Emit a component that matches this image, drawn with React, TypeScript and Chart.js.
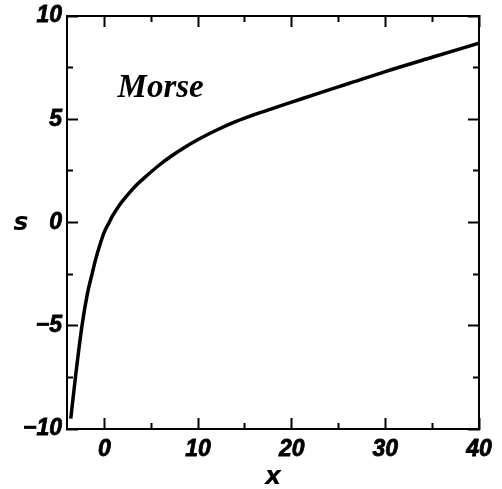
import React, { useEffect, useRef } from "react";
import { Chart, registerables } from "chart.js";

Chart.register(...registerables);

// Curve data
const xValues = [-3.6, -3.1, -2.4, -1.8, -1.3, -0.95, -0.5, -0.05, 0.5, 0.8, 1.5, 2.5, 3.5, 4.6, 5.8, 7, 8.5, 10, 12, 14, 16, 18, 20, 23, 26, 30, 35, 40];
const sValues = [-9.5, -7.5, -5.0, -3.4, -2.45, -1.8, -1.1, -0.5, 0.0, 0.27, 0.78, 1.35, 1.85, 2.3, 2.76, 3.17, 3.62, 4.02, 4.48, 4.88, 5.22, 5.53, 5.83, 6.28, 6.72, 7.31, 8.0, 8.68];

const xMajorTicks = [0, 10, 20, 30, 40];
const xMinorTicks = [5, 15, 25, 35];
const yMajorTicks = [-10, -5, 0, 5, 10];
const yMinorTicks = [-7.5, -2.5, 2.5, 7.5];

const X_MIN = -4;
const X_MAX = 40;
const Y_MIN = -10;
const Y_MAX = 10;

const annotationText = "Morse";
const annotationPos = [6, 6.1];
const xTitle = "x";
const yTitle = "s";

const fmt = (v: number) => (v < 0 ? "\u2212" + Math.abs(v) : String(v));

export default function App() {
  const canvasRef = useRef<HTMLCanvasElement | null>(null);

  useEffect(() => {
    const canvas = canvasRef.current;
    if (!canvas) return;

    const tickFont = { family: "'Liberation Sans', Arial, sans-serif", size: 23, weight: "bold" as const, style: "italic" as const };

    const setTicks = (vals: number[]) => (scale: any) => {
      scale.ticks = vals.map((v) => ({ value: v }));
    };

    const clearPad = (s: any) => {
      s.paddingLeft = 0;
      s.paddingRight = 0;
      s.paddingTop = 0;
      s.paddingBottom = 0;
    };

    const tickOnly = (axisPos: string, isX: boolean, vals: number[], len: number, size: number) => ({
      type: "linear" as const,
      position: axisPos,
      min: isX ? X_MIN : Y_MIN,
      max: isX ? X_MAX : Y_MAX,
      afterBuildTicks: setTicks(vals),
      ticks: { display: false },
      grid: { drawOnChartArea: false, drawTicks: true, tickLength: len, tickWidth: 2, tickColor: "#000", color: "#000" },
      border: { display: true, color: "#000", width: 2 },
      afterFit: (s: any) => {
        if (isX) s.height = size;
        else s.width = size;
        clearPad(s);
      },
    });

    const textPlugin = {
      id: "textLabels",
      afterDraw(chart: any) {
        const ctx = chart.ctx;
        const xs = chart.scales.x;
        const ys = chart.scales.y;
        ctx.save();
        ctx.fillStyle = "#000";
        ctx.font = "italic bold 33px 'Liberation Serif', 'Times New Roman', serif";
        ctx.textAlign = "center";
        ctx.textBaseline = "alphabetic";
        ctx.fillText(annotationText, xs.getPixelForValue(annotationPos[0]), ys.getPixelForValue(annotationPos[1]));
        ctx.font = "italic bold 25px 'DejaVu Sans', sans-serif";
        ctx.textBaseline = "middle";
        ctx.fillText(yTitle, chart.chartArea.left - 46, ys.getPixelForValue(0) + 1);
        ctx.restore();
      },
    };

    const chart = new Chart(canvas, {
      type: "line",
      data: {
        datasets: [
          {
            data: xValues.map((x, i) => ({ x, y: sValues[i] })),
            borderColor: "#000",
            borderWidth: 3.5,
            pointRadius: 0,
            fill: false,
            cubicInterpolationMode: "monotone",
            xAxisID: "x",
            yAxisID: "y",
          },
        ],
      },
      options: {
        responsive: false,
        animation: false,
        events: [],
        layout: { padding: 0 },
        plugins: { legend: { display: false }, tooltip: { enabled: false }, title: { display: false } },
        scales: {
          xMinorB: tickOnly("bottom", true, xMinorTicks, -6, 0),
          xMinorT: tickOnly("top", true, xMinorTicks, -6, 0),
          yMinorL: tickOnly("left", false, yMinorTicks, -6, 0),
          yMinorR: tickOnly("right", false, yMinorTicks, -6, 0),
          xTop: tickOnly("top", true, xMajorTicks, -11, 16),
          yRight: tickOnly("right", false, yMajorTicks, -11, 23),
          x: {
            type: "linear",
            position: "bottom",
            min: X_MIN,
            max: X_MAX,
            afterBuildTicks: setTicks(xMajorTicks),
            grid: { drawOnChartArea: false, tickLength: -11, tickWidth: 2, tickColor: "#000" },
            border: { display: true, color: "#000", width: 2 },
            ticks: { color: "#000", font: tickFont, padding: 18, textStrokeColor: "#000", textStrokeWidth: 0.8, callback: (v: any) => fmt(Number(v)), maxRotation: 0 },
            title: { display: true, text: xTitle, color: "#000", font: { family: "'DejaVu Sans', sans-serif", size: 25, weight: "bold", style: "italic" }, padding: { top: 0, bottom: -3 } },
            afterFit: (s: any) => {
              s.height = 60;
              clearPad(s);
            },
          },
          y: {
            type: "linear",
            position: "left",
            min: Y_MIN,
            max: Y_MAX,
            afterBuildTicks: setTicks(yMajorTicks),
            grid: { drawOnChartArea: false, tickLength: -11, tickWidth: 2, tickColor: "#000" },
            border: { display: true, color: "#000", width: 2 },
            ticks: { color: "#000", font: tickFont, padding: 16, textStrokeColor: "#000", textStrokeWidth: 0.8, callback: (v: any) => fmt(Number(v)) },
            afterFit: (s: any) => {
              s.width = 67;
              clearPad(s);
            },
          },
        },
      } as any,
      plugins: [textPlugin],
    });

    return () => chart.destroy();
  }, []);

  return (
    <div style={{ position: "absolute", left: 0, top: 0, width: 502, height: 489, background: "#fff" }}>
      <canvas ref={canvasRef} width={502} height={489} style={{ display: "block", width: 502, height: 489 }} />
    </div>
  );
}
